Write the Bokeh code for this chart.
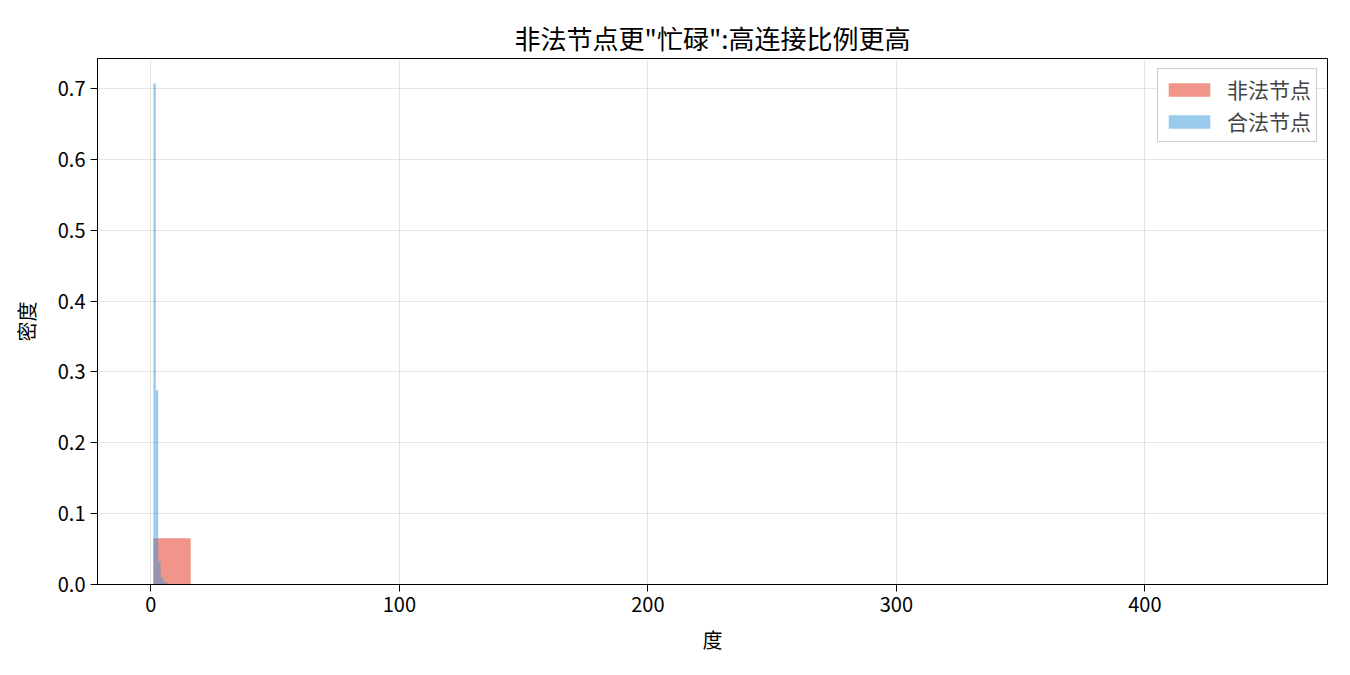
from bokeh.plotting import figure
from bokeh.models import Range1d, FixedTicker, ColumnDataSource, Legend, LegendItem, CustomJSTickFormatter
from bokeh.embed import file_html
from bokeh.resources import INLINE

# --- data ---
illegal_start = 1.0
illegal_width = 15.0
illegal_density = [0.0653, 0.0008, 0.0002, 0.0001, 0.0, 0.0, 0.0, 0.0, 0.0, 0.0,
                   0.0, 0.0, 0.0, 0.0, 0.0, 0.0, 0.0, 0.0, 0.0, 0.0,
                   0.0, 0.0, 0.0, 0.0, 0.0, 0.0, 0.0, 0.0, 0.0, 0.0]
legal_start = 1.0
legal_width = 29.0 / 30.0
legal_density = [0.707, 0.274, 0.0325, 0.010, 0.004, 0.002, 0.001, 0.0005, 0.0003, 0.0002,
                 0.0001, 0.0, 0.0, 0.0, 0.0, 0.0, 0.0, 0.0, 0.0, 0.0,
                 0.0, 0.0, 0.0, 0.0, 0.0, 0.0, 0.0, 0.0, 0.0, 0.0]
series_labels = ["非法节点", "合法节点"]
x_ticks = [0, 100, 200, 300, 400]
y_ticks = [0.0, 0.1, 0.2, 0.3, 0.4, 0.5, 0.6, 0.7]
title_text = '非法节点更"忙碌":高连接比例更高'
x_label = "度"
y_label = "密度"

FONT = "Noto Sans CJK SC"


def edges(start, width, n):
    lefts = [start + i * width for i in range(n)]
    rights = [start + (i + 1) * width for i in range(n)]
    return lefts, rights


il, ir = edges(illegal_start, illegal_width, len(illegal_density))
ll, lr = edges(legal_start, legal_width, len(legal_density))

src_ill = ColumnDataSource(dict(left=il, right=ir, top=illegal_density, bottom=[0] * len(il)))
src_leg = ColumnDataSource(dict(left=ll, right=lr, top=legal_density, bottom=[0] * len(ll)))

x_hi = ir[-1]
pad = 0.05 * (x_hi - illegal_start)

p = figure(width=1334, height=659, output_backend="svg", toolbar_location=None,
           x_range=Range1d(illegal_start - pad, x_hi + pad),
           y_range=Range1d(0, max(legal_density) * 1.05),
           min_border_left=97, min_border_right=7, min_border_top=58, min_border_bottom=75)

r1 = p.quad(left="left", right="right", top="top", bottom="bottom", source=src_ill,
            fill_color="#e74c3c", fill_alpha=0.6, line_color=None)
r2 = p.quad(left="left", right="right", top="top", bottom="bottom", source=src_leg,
            fill_color="#3498db", fill_alpha=0.5, line_color=None)

p.title.text = title_text
p.title.align = "center"
p.title.text_font = FONT
p.title.text_font_size = "26px"
p.title.text_font_style = "normal"
p.title.text_color = "black"
p.title.standoff = 5

for ax in (p.xaxis[0], p.yaxis[0]):
    ax.major_label_text_font = FONT
    ax.major_label_text_font_size = "20px"
    ax.major_label_text_color = "black"
    ax.axis_label_text_font = FONT
    ax.axis_label_text_font_size = "20px"
    ax.axis_label_text_font_style = "normal"
    ax.axis_label_text_color = "black"
    ax.major_tick_in = 0
    ax.major_tick_out = 7
    ax.minor_tick_line_color = None
    ax.axis_line_color = "black"
    ax.major_tick_line_color = "black"
    ax.major_label_standoff = 5

p.xaxis[0].ticker = FixedTicker(ticks=x_ticks)
p.yaxis[0].ticker = FixedTicker(ticks=y_ticks)
p.yaxis[0].formatter = CustomJSTickFormatter(code="return tick.toFixed(1);")
p.xaxis[0].axis_label = x_label
p.yaxis[0].axis_label = y_label
p.xaxis[0].axis_label_standoff = 10
p.yaxis[0].axis_label_standoff = 14

p.xgrid.grid_line_color = "#cccccc"
p.ygrid.grid_line_color = "#cccccc"
p.xgrid.grid_line_alpha = 0.5
p.ygrid.grid_line_alpha = 0.5
p.xgrid.ticker = FixedTicker(ticks=x_ticks)
p.ygrid.ticker = FixedTicker(ticks=y_ticks)

p.outline_line_color = "black"
p.outline_line_width = 1
p.background_fill_color = "white"
p.border_fill_color = "white"

legend = Legend(items=[LegendItem(label=series_labels[0], renderers=[r1]),
                       LegendItem(label=series_labels[1], renderers=[r2])],
                location="top_right")
legend.label_text_font = FONT
legend.label_text_font_size = "21px"
legend.border_line_color = "#cccccc"
legend.border_line_alpha = 1.0
legend.background_fill_alpha = 0.8
legend.glyph_width = 52
legend.glyph_height = 17
legend.label_standoff = 12
legend.spacing = 2
legend.padding = 5
legend.margin = 10
legend.label_height = 22
p.add_layout(legend)

open("out.html", "w").write(file_html(p, INLINE))
